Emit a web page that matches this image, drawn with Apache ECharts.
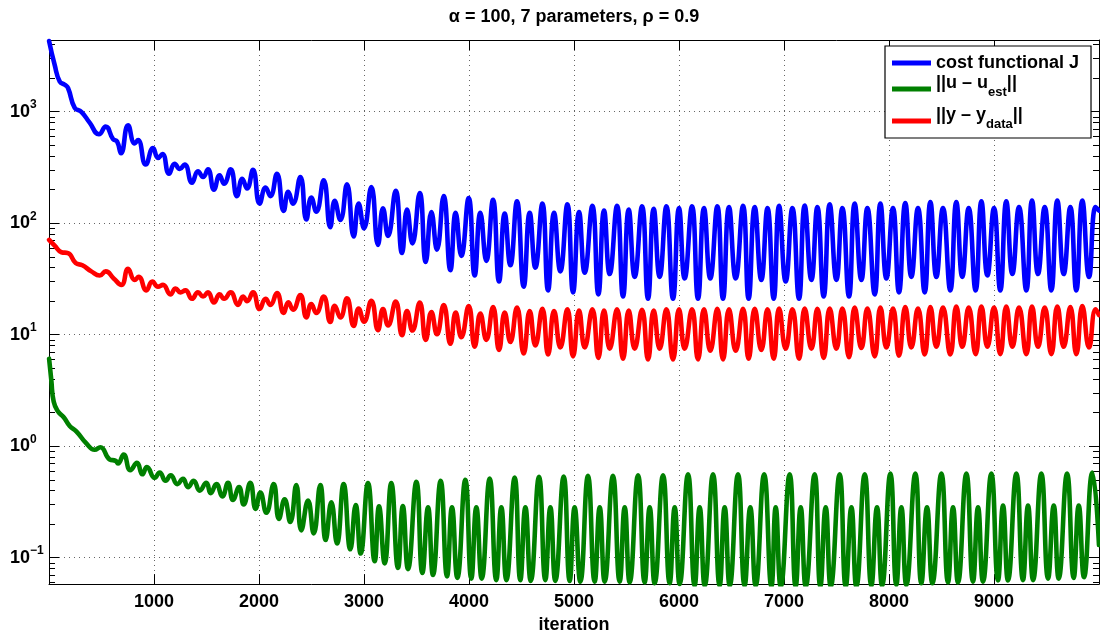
<!DOCTYPE html>
<html>
<head>
<meta charset="utf-8">
<script src="https://cdn.jsdelivr.net/npm/echarts@6/dist/echarts.min.js"></script>
<style>html,body{margin:0;padding:0;background:#fff}#c{width:1100px;height:639px}</style>
</head>
<body>
<div id="c"></div>
<script>
// ---- data (iteration, value) ----
const costJ = [[1,4300],[54,2630],[102,1870],[150,1746],[181,1634],[245,1085],[308,998],[387,798],[476,629],[540,736],[610,568],[648,542],[686,424],[753,756],[816,520],[848,556],[921,336],[991,472],[1038,385],[1080,418],[1143,278],[1197,341],[1245,307],[1292,336],[1362,231],[1419,292],[1467,260],[1514,304],[1571,200],[1625,269],[1667,226],[1730,304],[1790,175],[1841,251],[1886,205],[1943,301],[2006,150],[2063,209],[2108,175],[2171,278],[2235,129],[2279,191],[2324,150],[2394,260],[2451,108],[2498,170],[2546,127],[2616,243],[2679,92],[2721,159],[2775,107],[2838,223],[2902,76],[2949,150],[3000,90],[3070,211],[3133,64],[3181,136],[3229,77],[3302,195],[3362,54],[3410,133],[3461,66],[3531,187],[3588,45],[3642,126],[3695,58],[3759,175],[3823,38],[3873,124],[3927,51],[3997,168],[4054,34],[4108,124],[4165,46],[4229,162],[4286,30],[4340,122],[4394,42],[4457,157],[4521,27],[4578,124],[4632,40],[4699,150],[4753,25],[4810,124],[4870,37],[4937,148],[4991,24],[5048,126],[5102,36],[5175,143],[5232,23],[5286,130],[5340,35],[5410,143],[5467,22],[5521,133],[5578,33],[5648,142],[5705,21],[5759,135],[5816,33],[5880,142],[5943,21],[6000,137],[6054,32],[6124,142],[6181,21],[6238,137],[6298,32],[6365,142],[6419,21],[6476,140],[6540,32],[6610,143],[6663,21],[6721,140],[6784,31],[6843,137],[6902,21],[6953,143],[7016,30],[7080,137],[7143,21],[7197,144],[7261,31],[7318,140],[7378,22],[7435,148],[7499,31],[7556,137],[7619,22],[7673,150],[7737,31],[7794,137],[7864,23],[7918,150],[7975,32],[8038,137],[8095,24],[8155,152],[8213,33],[8276,137],[8340,24],[8394,155],[8451,33],[8514,137],[8584,25],[8641,155],[8698,33],[8759,137],[8825,25],[8880,157],[8937,34],[9000,137],[9060,25],[9117,157],[9175,35],[9238,140],[9308,25],[9362,160],[9419,35],[9483,140],[9546,25],[9603,160],[9664,35],[9727,140],[9784,25],[9841,160],[9905,33],[9968,140],[10000,130]];

const normU = [[1,6.1],[22,3.9],[45,2.5],[86,2.05],[140,1.82],[197,1.52],[260,1.36],[356,1.06],[435,0.93],[489,0.98],[578,0.76],[635,0.74],[657,0.70],[711,0.84],[775,0.61],[838,0.71],[889,0.56],[933,0.65],[1006,0.52],[1054,0.58],[1111,0.49],[1159,0.55],[1222,0.457],[1276,0.51],[1324,0.43],[1378,0.49],[1435,0.40],[1498,0.47],[1540,0.38],[1594,0.457],[1651,0.355],[1705,0.47],[1752,0.33],[1810,0.43],[1854,0.30],[1917,0.47],[1968,0.274],[2013,0.385],[2070,0.253],[2140,0.457],[2190,0.223],[2244,0.334],[2298,0.209],[2355,0.448],[2403,0.176],[2467,0.325],[2521,0.165],[2584,0.448],[2635,0.144],[2689,0.314],[2743,0.134],[2806,0.457],[2870,0.119],[2921,0.297],[2968,0.109],[3038,0.467],[3102,0.093],[3143,0.289],[3197,0.089],[3260,0.467],[3324,0.081],[3370,0.29],[3419,0.079],[3499,0.479],[3556,0.073],[3610,0.283],[3657,0.070],[3730,0.489],[3791,0.068],[3838,0.283],[3889,0.066],[3965,0.499],[4022,0.065],[4070,0.283],[4121,0.065],[4197,0.513],[4260,0.063],[4308,0.283],[4356,0.063],[4435,0.524],[4489,0.063],[4537,0.283],[4588,0.062],[4667,0.531],[4727,0.063],[4775,0.283],[4822,0.062],[4902,0.534],[4959,0.062],[5006,0.283],[5060,0.061],[5133,0.542],[5197,0.061],[5245,0.283],[5292,0.061],[5371,0.542],[5435,0.061],[5483,0.283],[5530,0.060],[5610,0.549],[5673,0.060],[5721,0.283],[5768,0.059],[5848,0.549],[5911,0.059],[5959,0.283],[6006,0.058],[6086,0.561],[6149,0.056],[6197,0.283],[6245,0.056],[6324,0.561],[6387,0.056],[6435,0.283],[6483,0.056],[6562,0.561],[6625,0.056],[6679,0.283],[6730,0.056],[6811,0.561],[6880,0.055],[6921,0.283],[6969,0.055],[7054,0.561],[7111,0.055],[7159,0.283],[7207,0.055],[7292,0.561],[7346,0.055],[7397,0.283],[7445,0.055],[7530,0.561],[7588,0.055],[7642,0.283],[7689,0.055],[7769,0.561],[7832,0.056],[7886,0.283],[7934,0.056],[8013,0.568],[8070,0.057],[8118,0.283],[8165,0.057],[8251,0.568],[8308,0.059],[8362,0.283],[8413,0.059],[8499,0.568],[8562,0.060],[8610,0.283],[8657,0.060],[8737,0.568],[8800,0.061],[8848,0.283],[8895,0.061],[8975,0.568],[9038,0.0625],[9086,0.293],[9133,0.0625],[9213,0.568],[9276,0.063],[9324,0.293],[9372,0.063],[9451,0.568],[9515,0.065],[9569,0.293],[9616,0.065],[9696,0.568],[9759,0.066],[9807,0.293],[9857,0.067],[9937,0.58],[10000,0.13]];

const normY = [[1,71],[54,63],[118,55],[181,54],[254,44],[318,42],[403,37],[483,34],[540,37],[616,32],[689,28],[753,39],[816,31],[854,33],[927,25],[984,30],[1038,27],[1086,28],[1156,23],[1206,26],[1251,24],[1299,25],[1362,21],[1419,24],[1467,22],[1514,24],[1571,19.5],[1625,23],[1667,21],[1730,24],[1800,18.5],[1848,22],[1886,20],[1943,24],[2006,17],[2063,21],[2108,18.5],[2171,23.6],[2235,15.7],[2279,19.5],[2324,16.8],[2394,22.7],[2451,14.3],[2498,18.8],[2546,15.7],[2616,22],[2679,13],[2721,18.2],[2775,14.3],[2838,21.2],[2902,12],[2949,17.2],[3000,13.1],[3070,20.2],[3133,11],[3181,17],[3229,12.1],[3302,19.8],[3362,9.9],[3410,16.3],[3461,10.9],[3531,19.4],[3588,9.0],[3642,16],[3695,10.1],[3759,18.5],[3823,8.3],[3873,15.8],[3927,9.5],[3997,18.1],[4054,7.8],[4108,15.5],[4165,9.0],[4229,17.7],[4286,7.3],[4340,15.8],[4394,8.6],[4457,17.5],[4521,6.8],[4578,16.3],[4632,8.0],[4699,17.1],[4753,6.65],[4810,16.3],[4870,7.7],[4937,16.9],[4991,6.4],[5048,16.5],[5102,7.7],[5175,16.9],[5232,6.2],[5286,16.5],[5340,7.5],[5410,16.9],[5467,6.1],[5521,16.5],[5578,7.5],[5648,16.7],[5705,6.0],[5759,16.5],[5816,7.5],[5880,16.9],[5943,6.0],[6000,16.9],[6054,7.5],[6124,16.9],[6181,6.0],[6238,16.9],[6298,7.2],[6365,17.1],[6419,6.0],[6476,16.9],[6540,7.2],[6610,17.1],[6663,6.1],[6721,17.1],[6784,7.3],[6843,16.9],[6902,6.1],[6953,17.2],[7016,7.5],[7080,16.9],[7143,6.1],[7197,17.2],[7261,7.5],[7318,17.1],[7378,6.2],[7435,17.2],[7499,7.5],[7556,17.2],[7619,6.3],[7673,17.5],[7737,7.6],[7794,17.2],[7864,6.4],[7918,17.5],[7975,7.7],[8038,17.2],[8095,6.5],[8155,17.7],[8213,7.7],[8276,17.2],[8340,6.65],[8394,17.7],[8451,7.8],[8514,17.5],[8584,6.65],[8641,17.9],[8698,7.8],[8759,17.5],[8825,6.7],[8880,17.9],[8937,7.8],[9000,17.5],[9060,6.7],[9117,17.9],[9175,7.8],[9238,17.5],[9308,6.7],[9362,17.9],[9419,7.8],[9483,17.5],[9546,6.7],[9603,17.9],[9664,7.8],[9727,17.7],[9784,6.7],[9841,18.1],[9905,7.7],[9968,16.9],[10000,15]];

// ---- axes / labels ----
const xTicks = [1000,2000,3000,4000,5000,6000,7000,8000,9000];
const yMajorTicks = [0.1, 1, 10, 100, 1000];
const yMajorExponents = ['−1', '0', '1', '2', '3'];
const yMinorTicks = [0.06,0.07,0.08,0.09,0.2,0.3,0.4,0.5,0.6,0.7,0.8,0.9,2,3,4,5,6,7,8,9,20,30,40,50,60,70,80,90,200,300,400,500,600,700,800,900,2000,3000,4000];
const seriesNames = ['cost functional J', '||u – u_est||', '||y – y_data||'];
const titleText = 'α = 100, 7 parameters, ρ = 0.9';
const xName = 'iteration';

const FONT = "'Liberation Sans', Arial, Helvetica, sans-serif";
const yMin = 0.058, yMax = 4400;
const LW = 4.6;

const chart = echarts.init(document.getElementById('c'), null, {renderer: 'canvas'});

const grid = {left: 49, right: 1, top: 40, bottom: 50, containLabel: false};

function baseY(pos, ticks, len, showLine) {
  return {
    type: 'log', logBase: 10, min: yMin, max: yMax, position: pos,
    axisLine: {show: showLine, lineStyle: {color: '#000', width: 1}},
    axisTick: {show: true, inside: true, length: len, customValues: ticks, lineStyle: {color: '#000', width: 1}},
    axisLabel: {show: false},
    splitLine: {show: false},
    minorTick: {show: false}
  };
}

const yMain = baseY('left', yMajorTicks, 10, true);
yMain.axisLabel = {
  show: true, customValues: yMajorTicks, align: 'left', margin: 39,
  formatter: function (v) {
    const i = yMajorTicks.findIndex(t => Math.abs(t - v) / t < 1e-6);
    return '{b|10}{e|' + yMajorExponents[i] + '}';
  },
  rich: {
    b: {fontSize: 18, fontWeight: 'bold', fontFamily: FONT, color: '#000', lineHeight: 18},
    e: {fontSize: 12, fontWeight: 'bold', fontFamily: FONT, color: '#000', lineHeight: 12, padding: [0, 0, 14, 0]}
  }
};
yMain.splitLine = {show: true, lineStyle: {color: '#666', width: 1, type: [1, 4]}};

const legendRich = {
  m: {fontSize: 18, fontWeight: 'bold', fontFamily: FONT, color: '#000', lineHeight: 18, padding: [0, 0, 12, 0]},
  s: {fontSize: 13, fontWeight: 'bold', fontFamily: FONT, color: '#000', lineHeight: 13, padding: [6, 0, 0, 0]}
};

function lineSeries(name, data, color) {
  return {
    name: name, type: 'line', data: data, xAxisIndex: 0, yAxisIndex: 0,
    showSymbol: false, smooth: 0.5, clip: true,
    lineStyle: {color: color, width: LW, cap: 'round', join: 'round'},
    itemStyle: {color: color}
  };
}

const option = {
  animation: false,
  backgroundColor: '#fff',
  title: {
    text: titleText, left: 574, top: 8, textAlign: 'center', padding: 0,
    textStyle: {fontSize: 18, fontWeight: 'bold', fontFamily: FONT, color: '#000'}
  },
  grid: grid,
  legend: {
    data: seriesNames, orient: 'vertical', left: 885, top: 46,
    icon: 'rect', itemWidth: 39, itemHeight: 5, itemGap: 2,
    padding: [8, 12, 2, 7], backgroundColor: '#fff', borderColor: '#000', borderWidth: 1.2, borderRadius: 0,
    selectedMode: false,
    textStyle: {fontSize: 18, fontWeight: 'bold', fontFamily: FONT, color: '#000', lineHeight: 18, rich: legendRich},
    formatter: function (name) {
      if (name === seriesNames[1]) return '{m|||u – u}{s|est}{m|||}';
      if (name === seriesNames[2]) return '{m|||y – y}{s|data}{m|||}';
      return name;
    }
  },
  xAxis: [
    {
      type: 'value', min: 0, max: 10000, interval: 1000, position: 'bottom',
      name: xName, nameLocation: 'middle', nameGap: 27,
      nameTextStyle: {fontSize: 18, fontWeight: 'bold', fontFamily: FONT, color: '#000'},
      axisLine: {show: true, lineStyle: {color: '#000', width: 1}},
      axisTick: {show: true, inside: true, length: 10, customValues: xTicks, lineStyle: {color: '#000'}},
      axisLabel: {show: true, customValues: xTicks, margin: 9, fontSize: 18, fontWeight: 'bold', fontFamily: FONT, color: '#000',
                  formatter: function (v) { return String(v); }},
      splitLine: {show: true, lineStyle: {color: '#666', width: 1, type: [1, 4]}}
    },
    {
      type: 'value', min: 0, max: 10000, interval: 1000, position: 'top',
      axisLine: {show: true, lineStyle: {color: '#000', width: 1}},
      axisTick: {show: true, inside: true, length: 10, customValues: xTicks, lineStyle: {color: '#000'}},
      axisLabel: {show: false}, splitLine: {show: false}
    }
  ],
  yAxis: [
    yMain,
    baseY('left', yMinorTicks, 6, false),
    baseY('right', yMajorTicks, 10, true),
    baseY('right', yMinorTicks, 6, false)
  ],
  series: [
    lineSeries(seriesNames[0], costJ, '#0000ff'),
    lineSeries(seriesNames[1], normU, '#008000'),
    lineSeries(seriesNames[2], normY, '#ff0000')
  ]
};
chart.setOption(option);
</script>
</body>
</html>
